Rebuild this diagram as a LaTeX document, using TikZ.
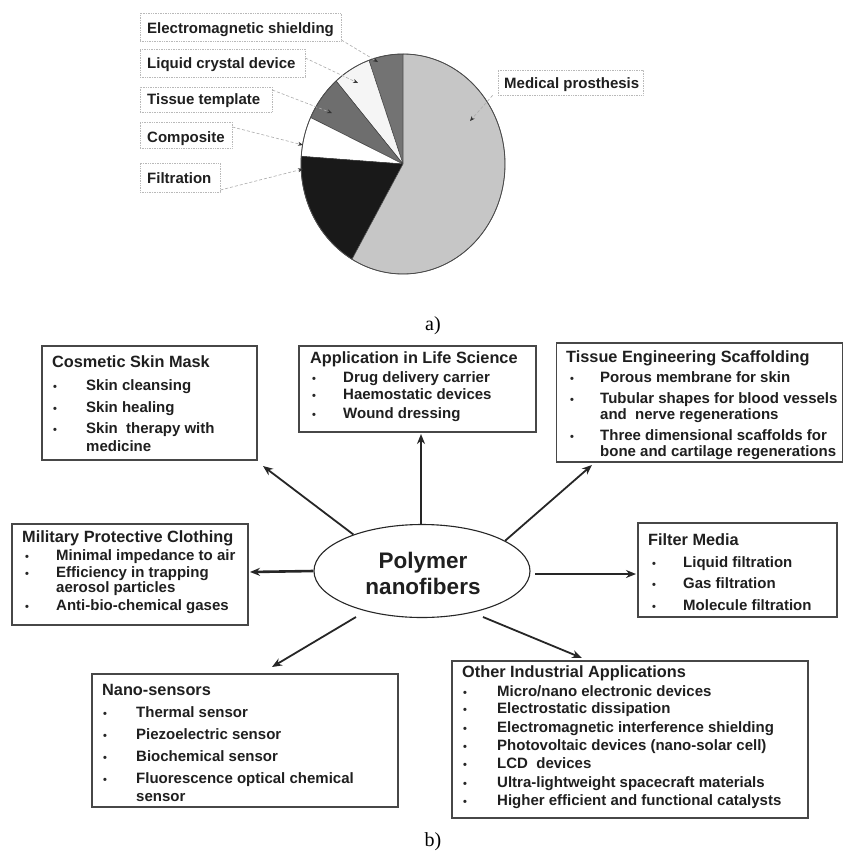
\documentclass[tikz,border=0pt]{standalone}
\usepackage{fontspec}
\setmainfont{Liberation Sans}
\newfontfamily\seriffam{Liberation Serif}
\usetikzlibrary{arrows.meta,shapes.geometric}
\begin{document}
\begin{tikzpicture}[x=1pt,y=-1pt,
 txt/.style={anchor=base west, inner sep=0pt, font=\fontsize{15}{15}\selectfont\bfseries, text=black!88},
 ttl/.style={anchor=base west, inner sep=0pt, font=\fontsize{16.3}{16}\selectfont\bfseries, text=black!88},
 bul/.style={anchor=base west, inner sep=0pt, font=\fontsize{11}{11}\selectfont\bfseries, text=black!85},
 bbox/.style={draw=black!72, line width=1.1pt, rectangle, inner sep=0pt},
 lbox/.style={draw=gray!55, densely dotted, line width=0.7pt, rectangle, inner sep=0pt},
 arr/.style={draw=black!85, line width=1.8pt, -{Stealth[length=10pt,width=8pt]}},
 lead/.style={draw=gray!65, densely dashed, line width=0.6pt, -{Stealth[length=5pt,width=4pt,color=black!80]}},
 slice/.style={draw=black!75, line width=0.5pt},
 captxt/.style={anchor=base, inner sep=0pt, font=\seriffam\fontsize{20}{20}\selectfont}
]
\useasboundingbox (0,0) rectangle (845,852);
\fill[white] (0,0) rectangle (845,852);

% ---------------- pie chart ----------------
\coordinate (pc) at (403,164);
\filldraw[slice, fill=black!55] (pc) -- ++(-90:102 and 110) arc[start angle=-90,end angle=-109.5,x radius=102,y radius=110] -- cycle;
\filldraw[slice, fill=gray!8] (pc) -- ++(-109.5:102 and 110) arc[start angle=-109.5,end angle=-131,x radius=102,y radius=110] -- cycle;
\filldraw[slice, fill=black!57] (pc) -- ++(-131:102 and 110) arc[start angle=-131,end angle=-155,x radius=102,y radius=110] -- cycle;
\filldraw[slice, fill=white] (pc) -- ++(-155:102 and 110) arc[start angle=-155,end angle=-176,x radius=102,y radius=110] -- cycle;
\filldraw[slice, fill=black!90] (pc) -- ++(-176:102 and 110) arc[start angle=-176,end angle=-240,x radius=102,y radius=110] -- cycle;
\filldraw[slice, fill=gray!45] (pc) -- ++(-240:102 and 110) arc[start angle=-240,end angle=-450,x radius=102,y radius=110] -- cycle;
\draw[draw=black!70, line width=0.8pt] (pc) ellipse [x radius=102, y radius=110];

% labels
\node[lbox, minimum width=201pt, minimum height=28pt] (lem) at (240.5,27) {};
\node[txt] (tem) at (147,33) {Electromagnetic shielding};
\node[lbox, minimum width=165pt, minimum height=28pt] (llc) at (222.5,63) {};
\node[txt] (tlc) at (147,68) {Liquid crystal device};
\node[lbox, minimum width=132pt, minimum height=25pt] (ltt) at (206,99.5) {};
\node[txt] (ttt) at (147,104) {Tissue template};
\node[lbox, minimum width=92pt, minimum height=26pt] (lco) at (186,135) {};
\node[txt] (tco) at (147,142) {Composite};
\node[lbox, minimum width=80pt, minimum height=29pt] (lfi) at (180,177.5) {};
\node[txt] (tfi) at (147,183) {Filtration};
\node[lbox, minimum width=145pt, minimum height=25pt] (lme) at (570.5,82.5) {};
\node[txt] (tme) at (504,88) {Medical prosthesis};

\coordinate (aem) at (378,62);
\coordinate (alc) at (358,83);
\coordinate (att) at (332,113);
\coordinate (aco) at (303,145);
\coordinate (afi) at (303,169);
\coordinate (ame) at (470,121);
\draw[lead] (lem.east |- 0,40) -- (aem);
\draw[lead] (llc.east |- 0,58) -- (alc);
\draw[lead] (ltt.east |- 0,90) -- (att);
\draw[lead] (lco.east |- 0,127) -- (aco);
\draw[lead] (lfi.east |- 0,190) -- (afi);
\draw[lead] ([xshift=-5pt]lme.south west) -- (ame);

\node[captxt] (capa) at (433,330) {a)};

% ---------------- central ellipse ----------------
\node[draw=black!85, ellipse, line width=1.1pt, minimum width=216pt, minimum height=93pt, inner sep=0pt] (pn) at (422,571) {};
\node[anchor=base, inner sep=0pt, font=\fontsize{22.5}{22}\selectfont\bfseries, text=black!88] (pt1) at (423,568) {Polymer};
\node[anchor=base, inner sep=0pt, font=\fontsize{22.5}{22}\selectfont\bfseries, text=black!88] (pt2) at (423,594) {nanofibers};

% ---------------- Cosmetic Skin Mask ----------------
\node[bbox, minimum width=215pt, minimum height=114pt] (bcs) at (149.5,403) {};
\node[ttl] at (52,367) {Cosmetic Skin Mask};
\node[bul] at (53,390) {•}; \node[txt] at (86,390) {Skin cleansing};
\node[bul] at (53,412) {•}; \node[txt] at (86,412) {Skin healing};
\node[bul] at (53,433) {•}; \node[txt] at (86,433) {Skin\ \ therapy with};
\node[txt] at (86,451) {medicine};

% ---------------- Application in Life Science ----------------
\node[bbox, minimum width=237pt, minimum height=86pt] (bap) at (417.5,389) {};
\node[ttl] at (310,363) {Application in Life Science};
\node[bul] at (312,382) {•}; \node[txt] at (343,382) {Drug delivery carrier};
\node[bul] at (312,399) {•}; \node[txt] at (343,399) {Haemostatic devices};
\node[bul] at (312,418) {•}; \node[txt] at (343,418) {Wound dressing};

% ---------------- Tissue Engineering Scaffolding ----------------
\node[bbox, minimum width=286pt, minimum height=119pt] (bte) at (699.5,402.5) {};
\node[ttl] at (566,362) {Tissue Engineering Scaffolding};
\node[bul] at (570,382) {•}; \node[txt] at (600,382) {Porous membrane for skin};
\node[bul] at (570,403) {•}; \node[txt] at (600,403) {Tubular shapes for blood vessels};
\node[txt] at (600,419) {and\ \ nerve regenerations};
\node[bul] at (570,440) {•}; \node[txt] at (600,440) {Three dimensional scaffolds for};
\node[txt] at (600,456) {bone and cartilage regenerations};

% ---------------- Military Protective Clothing ----------------
\node[bbox, minimum width=236pt, minimum height=101pt] (bmi) at (130,574.5) {};
\node[ttl] at (22,542) {Military Protective Clothing};
\node[bul] at (25,560) {•}; \node[txt] at (56,560) {Minimal impedance to air};
\node[bul] at (25,577) {•}; \node[txt] at (56,577) {Efficiency in trapping};
\node[txt] at (56,592) {aerosol particles};
\node[bul] at (25,610) {•}; \node[txt] at (56,610) {Anti-bio-chemical gases};

% ---------------- Filter Media ----------------
\node[bbox, minimum width=199pt, minimum height=94pt] (bfm) at (737.5,570) {};
\node[ttl] at (648,545) {Filter Media};
\node[bul] at (652,567) {•}; \node[txt] at (683,567) {Liquid filtration};
\node[bul] at (652,588) {•}; \node[txt] at (683,588) {Gas filtration};
\node[bul] at (652,610) {•}; \node[txt] at (683,610) {Molecule filtration};

% ---------------- Nano-sensors ----------------
\node[bbox, minimum width=306pt, minimum height=133pt] (bns) at (245,740.5) {};
\node[ttl] at (102,695) {Nano-sensors};
\node[bul] at (103,717) {•}; \node[txt] at (136,717) {Thermal sensor};
\node[bul] at (103,739) {•}; \node[txt] at (136,739) {Piezoelectric sensor};
\node[bul] at (103,761) {•}; \node[txt] at (136,761) {Biochemical sensor};
\node[bul] at (103,783) {•}; \node[txt] at (136,783) {Fluorescence optical chemical};
\node[txt] at (136,801) {sensor};

% ---------------- Other Industrial Applications ----------------
\node[bbox, minimum width=356pt, minimum height=157pt] (boi) at (630,739.5) {};
\node[ttl] at (462,677) {Other Industrial Applications};
\node[bul] at (463,696) {•}; \node[txt] at (497,696) {Micro/nano electronic devices};
\node[bul] at (463,713) {•}; \node[txt] at (497,713) {Electrostatic dissipation};
\node[bul] at (463,732) {•}; \node[txt] at (497,732) {Electromagnetic interference shielding};
\node[bul] at (463,750) {•}; \node[txt] at (497,750) {Photovoltaic devices (nano-solar cell)};
\node[bul] at (463,768) {•}; \node[txt] at (497,768) {LCD\ \ devices};
\node[bul] at (463,787) {•}; \node[txt] at (497,787) {Ultra-lightweight spacecraft materials};
\node[bul] at (463,805) {•}; \node[txt] at (497,805) {Higher efficient and functional catalysts};

\node[captxt] (capb) at (433,846) {b)};

% ---------------- arrows ----------------
\coordinate (t1) at (263,466);
\coordinate (t2) at (421,434);
\coordinate (t3) at (592,465);
\coordinate (t4) at (250,572);
\coordinate (s5) at (535,574);
\coordinate (t5) at (636,574);
\coordinate (s6) at (356,617);
\coordinate (t6) at (272,667);
\coordinate (s7) at (483,617);
\coordinate (t7) at (582,658);
\draw[arr] (pn.152) -- (t1);
\draw[arr] (pn.north -| t2) -- (t2);
\draw[arr] (pn.20) -- (t3);
\draw[arr, line width=2.6pt] (pn.west) -- (t4);
\draw[arr] (s5) -- (t5);
\draw[arr] (s6) -- (t6);
\draw[arr] (s7) -- (t7);
\end{tikzpicture}
\end{document}
